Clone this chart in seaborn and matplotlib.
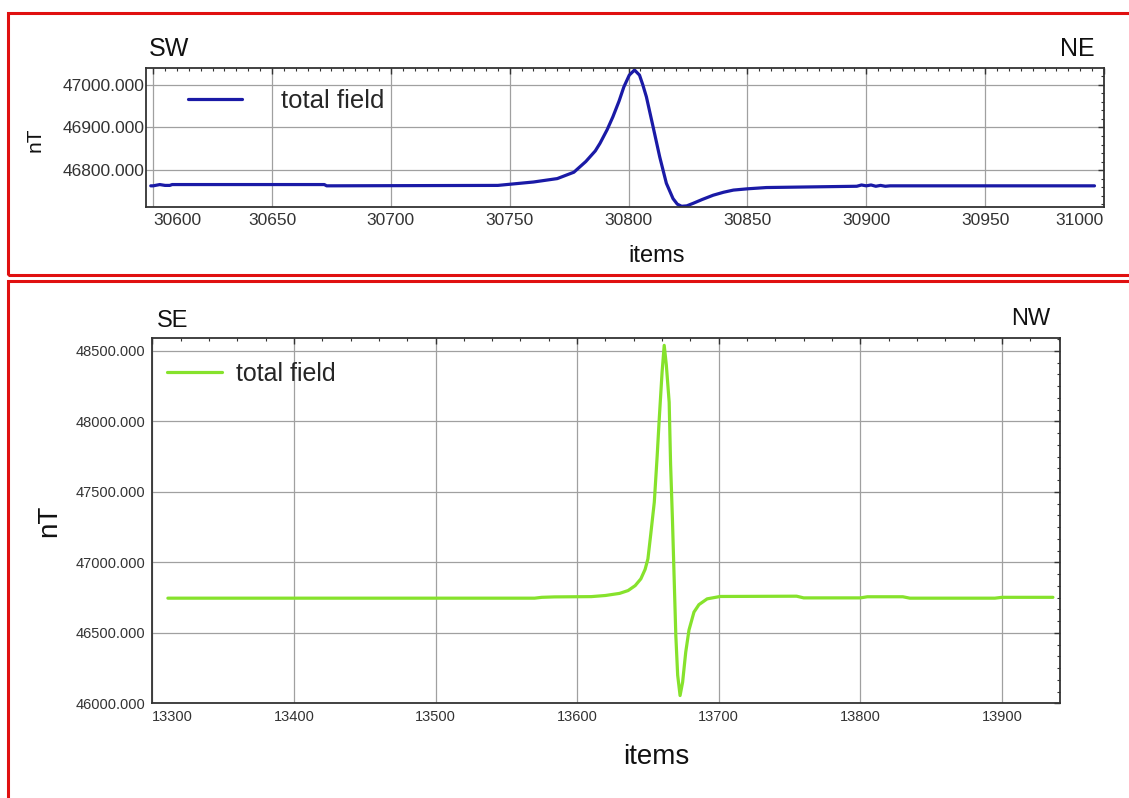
import numpy as np
import pandas as pd
import seaborn as sns
import matplotlib.pyplot as plt
from matplotlib.patches import Rectangle
from matplotlib.ticker import MultipleLocator, FormatStrFormatter

# Perfil SW - NE (lectura aproximada de la curva)
items_sw = [30599, 30600, 30602.8, 30605, 30607, 30608, 30672, 30673, 30745, 30760,
            30770, 30777, 30782, 30786, 30788, 30791, 30793.4, 30796, 30798, 30800.3,
            30802.5, 30804.6, 30806, 30807.5, 30810.3, 30813.1, 30815.9, 30818.7, 30820.5, 30822.3,
            30824.5, 30827.2, 30831, 30835.6, 30840, 30844.1, 30850, 30858, 30896, 30898,
            30900, 30902, 30904, 30906, 30908, 30910, 30996]
field_sw = [46763, 46763, 46766, 46764, 46764, 46766, 46766, 46763, 46764, 46772,
            46780, 46795, 46820, 46845, 46863, 46895, 46925, 46962, 46995, 47023,
            47035, 47023, 47000, 46972, 46902, 46831, 46769, 46733, 46720, 46715,
            46716, 46722, 46731, 46741, 46748, 46753, 46756, 46759, 46762, 46765,
            46763, 46765, 46762, 46764, 46762, 46763, 46763]

# Perfil SE - NW
items_se = [13311, 13570, 13575, 13584, 13610, 13620, 13630, 13636, 13641, 13645,
            13648, 13650, 13652, 13654.5, 13656.5, 13658, 13660, 13661.5, 13663, 13665,
            13666, 13667.3, 13669.7, 13671, 13672.7, 13674.5, 13676.7, 13679, 13682.5, 13686,
            13691.8, 13701, 13755, 13760, 13800, 13805, 13830, 13835, 13895, 13900, 13936]
field_se = [46746, 46746, 46752, 46755, 46757, 46765, 46780, 46800, 46835, 46883,
            46950, 47025, 47200, 47427, 47750, 48019, 48350, 48540, 48400, 48137,
            47700, 47309, 46481, 46200, 46055, 46150, 46363, 46520, 46647, 46700,
            46741, 46758, 46760, 46748, 46748, 46756, 46756, 46746, 46746, 46752, 46752]

sns.set_theme(style="white")
plt.rcParams['font.family'] = ['Liberation Sans', 'DejaVu Sans']

W, H = 1129, 798
fig = plt.figure(figsize=(W / 100, H / 100), dpi=100)


def ax_px(left, top, right, bottom):
    return fig.add_axes([left / W, 1 - bottom / H, (right - left) / W, (bottom - top) / H])


def estilo(ax, fs, ypad, xpad):
    for s in ax.spines.values():
        s.set_color('#333333')
        s.set_linewidth(1.3)
    ax.tick_params(which='both', direction='in', top=True, right=True,
                   colors='#333333', labelcolor='#333333')
    ax.tick_params(which='major', length=4, width=1.0, labelsize=fs)
    ax.tick_params(which='minor', length=2.5, width=0.8)
    ax.tick_params(axis='y', pad=ypad)
    ax.tick_params(axis='x', pad=xpad)
    ax.grid(True, which='major', color='#a0a0a0', linewidth=0.9)
    ax.set_axisbelow(True)


# ---- panel superior ----
ax1 = ax_px(146, 68.3, 1104, 206.7)
sns.lineplot(x=items_sw, y=field_sw, ax=ax1, color='#1a1aa6', linewidth=2.3,
             label='total field', sort=False)
ax1.set_xlim(30597, 31000)
ax1.set_ylim(46714, 47039)
xt1 = list(range(30600, 31001, 50))
ax1.set_xticks(xt1)
ax1.set_xticklabels([str(v) for v in xt1])
ax1.set_yticks([46800, 46900, 47000])
ax1.yaxis.set_major_formatter(FormatStrFormatter('%.3f'))
ax1.xaxis.set_minor_locator(MultipleLocator(5))
ax1.yaxis.set_minor_locator(MultipleLocator(20))
estilo(ax1, 12.5, 1, 4.5)
ax1.get_xticklabels()[0].set_ha('left')
ax1.get_xticklabels()[-1].set_ha('right')
ax1.legend(loc='upper left', bbox_to_anchor=(0.044, 0.85), frameon=False,
           fontsize=18.5, handlelength=2.1, handletextpad=1.5,
           borderpad=0, borderaxespad=0)
ax1.set_xlabel('items', fontsize=17, va='baseline', color='#111111')
ax1.xaxis.set_label_coords((657 - 146) / 958, (206.7 - 262) / 138.4)
ax1.set_ylabel('nT', fontsize=15, va='center', color='#111111')
ax1.yaxis.set_label_coords((35 - 146) / 958, (206.7 - 140) / 138.4)
fig.text(149 / W, 1 - 55.5 / H, 'SW', fontsize=18, va='baseline', ha='left', color='#111111')
fig.text(1095 / W, 1 - 56.5 / H, 'NE', fontsize=18, va='baseline', ha='right', color='#111111')

# ---- panel inferior ----
ax2 = ax_px(152.3, 338.3, 1060, 703.3)
sns.lineplot(x=items_se, y=field_se, ax=ax2, color='#86e22c', linewidth=2.3,
             label='total field', sort=False)
ax2.set_xlim(13300, 13941)
ax2.set_ylim(46000, 48590)
xt2 = list(range(13300, 13901, 100))
ax2.set_xticks(xt2)
ax2.set_xticklabels([str(v) for v in xt2])
ax2.set_yticks(list(range(46000, 48501, 500)))
ax2.yaxis.set_major_formatter(FormatStrFormatter('%.3f'))
ax2.xaxis.set_minor_locator(MultipleLocator(20))
ax2.yaxis.set_minor_locator(MultipleLocator(500 / 6))
estilo(ax2, 10.5, 5, 5)
ax2.get_xticklabels()[0].set_ha('left')
ax2.legend(loc='upper left', bbox_to_anchor=(0.0165, 0.935), frameon=False,
           fontsize=18, handlelength=2.2, handletextpad=0.55,
           borderpad=0, borderaxespad=0)
ax2.set_xlabel('items', fontsize=20, va='baseline', color='#111111')
ax2.xaxis.set_label_coords((656.7 - 152.3) / 907.7, (703.3 - 764) / 365)
ax2.set_ylabel('nT', fontsize=20, va='center', color='#111111')
ax2.yaxis.set_label_coords((49 - 152.3) / 907.7, (703.3 - 521) / 365)
fig.text(156.5 / W, 1 - 326.7 / H, 'SE', fontsize=17, va='baseline', ha='left', color='#111111')
fig.text(1050 / W, 1 - 324.5 / H, 'NW', fontsize=17, va='baseline', ha='right', color='#111111')

# marcos rojos
for x0, y0, y1 in [(7.5, 13, 275), (8, 281, 820)]:
    fig.patches.append(Rectangle((x0 / W, 1 - y1 / H), (1140 - x0) / W, (y1 - y0) / H,
                                 transform=fig.transFigure, fill=False,
                                 edgecolor='#e01010', linewidth=2.2))

fig.savefig('out.png', dpi=100)
